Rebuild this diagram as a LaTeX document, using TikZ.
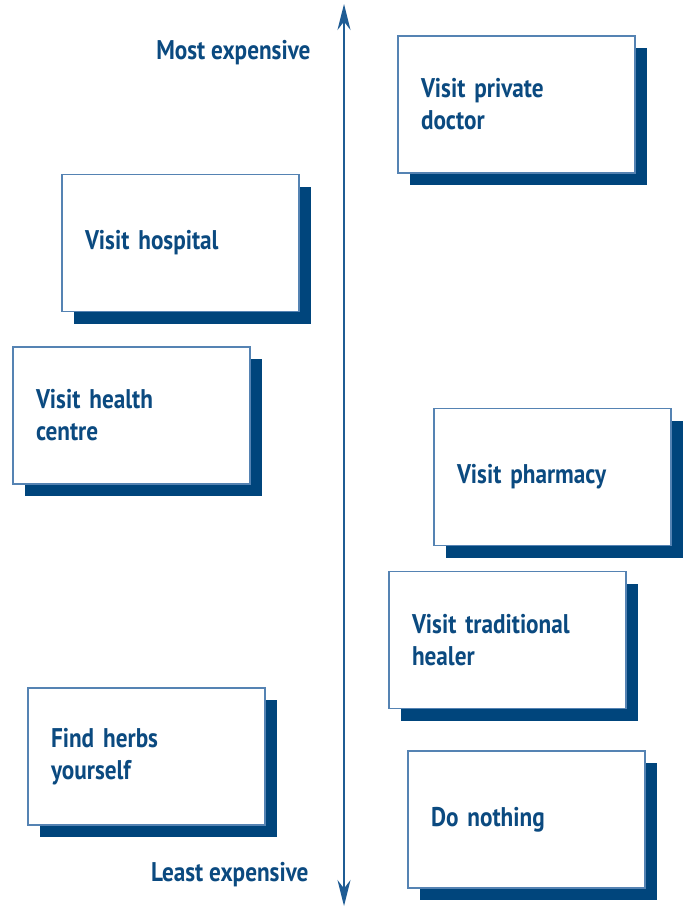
\documentclass[tikz,border=0pt]{standalone}
\usepackage{fontspec}
\newfontfamily\cardfont[FakeStretch=0.86]{PT Sans Bold}
\usetikzlibrary{arrows.meta,shadows}
\definecolor{inkblue}{HTML}{0B4A80}
\definecolor{edgeblue}{HTML}{5583B3}
\definecolor{shadeblue}{HTML}{00457C}
\definecolor{axisblue}{HTML}{1F5C94}

\begin{document}
\begin{tikzpicture}[x=1pt,y=-1pt,
    every node/.style={font=\cardfont\fontsize{27}{32}\selectfont, text=inkblue},
    card/.style={draw=edgeblue, line width=1.1pt, fill=white, rectangle,
        minimum width=237pt, minimum height=137pt, inner sep=0pt,
        text width=191pt, align=left,
        drop shadow={shadow xshift=12pt, shadow yshift=-12pt, opacity=1, fill=shadeblue}}]
    \useasboundingbox (0,0) rectangle (691,908);
    % cost axis
    \coordinate (top) at (344,4);
    \coordinate (bottom) at (344,906);
    \draw[axisblue, line width=1.6pt, {Stealth[length=26pt,width=13pt]}-{Stealth[length=26pt,width=13pt]}] (bottom) -- (top);
    \node[anchor=east] (most) at (314,53) {Most expensive};
    \node[anchor=east] (least) at (312,875) {Least expensive};
    % options
    \node[card] (doctor) at (516.5,104.5) {Visit private\\doctor};
    \node[card] (hospital) at (180.5,243) {Visit hospital};
    \node[card] (centre) at (131.5,415.5) {Visit health\\centre};
    \node[card] (pharmacy) at (552.5,477) {Visit pharmacy};
    \node[card] (healer) at (507.5,640) {Visit traditional\\healer};
    \node[card] (herbs) at (146.5,756.5) {Find herbs\\yourself};
    \node[card] (nothing) at (526.5,819.5) {Do nothing};
\end{tikzpicture}
\end{document}
